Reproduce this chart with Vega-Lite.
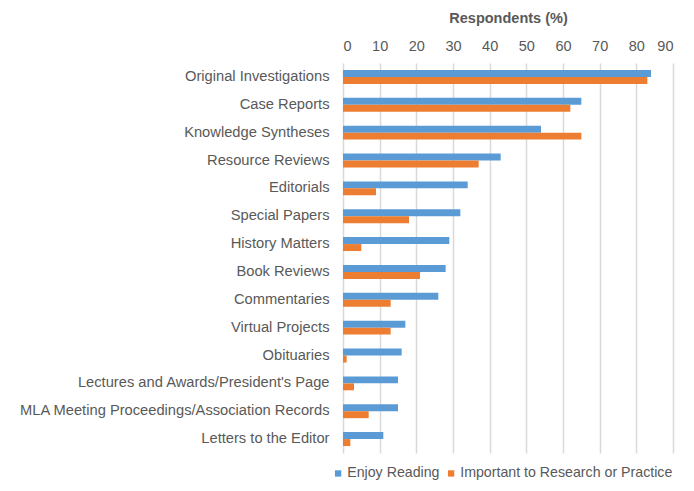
{
  "$schema": "https://vega.github.io/schema/vega-lite/v6.json",
  "width": 330,
  "height": 390,
  "autosize": "none",
  "padding": {"left": 343, "top": 63, "right": 21, "bottom": 38},
  "background": "white",
  "data": {
    "values": [
      {"category": "Original Investigations", "series": "Enjoy Reading", "value": 84},
      {"category": "Original Investigations", "series": "Important to Research or Practice", "value": 83},
      {"category": "Case Reports", "series": "Enjoy Reading", "value": 65},
      {"category": "Case Reports", "series": "Important to Research or Practice", "value": 62},
      {"category": "Knowledge Syntheses", "series": "Enjoy Reading", "value": 54},
      {"category": "Knowledge Syntheses", "series": "Important to Research or Practice", "value": 65},
      {"category": "Resource Reviews", "series": "Enjoy Reading", "value": 43},
      {"category": "Resource Reviews", "series": "Important to Research or Practice", "value": 37},
      {"category": "Editorials", "series": "Enjoy Reading", "value": 34},
      {"category": "Editorials", "series": "Important to Research or Practice", "value": 9},
      {"category": "Special Papers", "series": "Enjoy Reading", "value": 32},
      {"category": "Special Papers", "series": "Important to Research or Practice", "value": 18},
      {"category": "History Matters", "series": "Enjoy Reading", "value": 29},
      {"category": "History Matters", "series": "Important to Research or Practice", "value": 5},
      {"category": "Book Reviews", "series": "Enjoy Reading", "value": 28},
      {"category": "Book Reviews", "series": "Important to Research or Practice", "value": 21},
      {"category": "Commentaries", "series": "Enjoy Reading", "value": 26},
      {"category": "Commentaries", "series": "Important to Research or Practice", "value": 13},
      {"category": "Virtual Projects", "series": "Enjoy Reading", "value": 17},
      {"category": "Virtual Projects", "series": "Important to Research or Practice", "value": 13},
      {"category": "Obituaries", "series": "Enjoy Reading", "value": 16},
      {"category": "Obituaries", "series": "Important to Research or Practice", "value": 1},
      {"category": "Lectures and Awards/President's Page", "series": "Enjoy Reading", "value": 15},
      {"category": "Lectures and Awards/President's Page", "series": "Important to Research or Practice", "value": 3},
      {"category": "MLA Meeting Proceedings/Association Records", "series": "Enjoy Reading", "value": 15},
      {"category": "MLA Meeting Proceedings/Association Records", "series": "Important to Research or Practice", "value": 7},
      {"category": "Letters to the Editor", "series": "Enjoy Reading", "value": 11},
      {"category": "Letters to the Editor", "series": "Important to Research or Practice", "value": 2}
    ]
  },
  "mark": {"type": "bar"},
  "encoding": {
    "y": {
      "field": "category",
      "type": "nominal",
      "sort": null,
      "scale": {"paddingInner": 0.5, "paddingOuter": 0.25},
      "axis": {
        "title": null,
        "domain": false,
        "ticks": false,
        "labelPadding": 14,
        "labelFont": "Liberation Sans",
        "labelFontSize": 14.7,
        "labelColor": "#595959",
        "labelLimit": 400
      }
    },
    "yOffset": {"field": "series", "type": "nominal", "sort": null},
    "x": {
      "field": "value",
      "type": "quantitative",
      "scale": {"domain": [0, 90], "nice": false},
      "axis": {
        "orient": "top",
        "values": [0, 10, 20, 30, 40, 50, 60, 70, 80, 90],
        "title": "Respondents (%)",
        "titleFont": "Liberation Sans",
        "titleFontSize": 14.5,
        "titleFontWeight": "bold",
        "titleColor": "#595959",
        "titlePadding": 13,
        "domain": false,
        "ticks": false,
        "labelPadding": 10,
        "labelFont": "Liberation Sans",
        "labelFontSize": 14.5,
        "labelColor": "#595959",
        "grid": true,
        "gridColor": "#d9d9d9",
        "gridWidth": 1.5
      }
    },
    "color": {
      "field": "series",
      "type": "nominal",
      "sort": null,
      "scale": {"range": ["#5b9bd5", "#ed7d31"]},
      "legend": {
        "title": null,
        "orient": "none",
        "direction": "horizontal",
        "legendX": -12,
        "legendY": 403,
        "symbolType": "square",
        "symbolSize": 40,
        "symbolStrokeWidth": 0,
        "labelFont": "Liberation Sans",
        "labelFontSize": 14.2,
        "labelColor": "#595959",
        "labelLimit": 400,
        "columnPadding": 4,
        "labelOffset": 2
      }
    }
  },
  "config": {"view": {"stroke": null}}
}
